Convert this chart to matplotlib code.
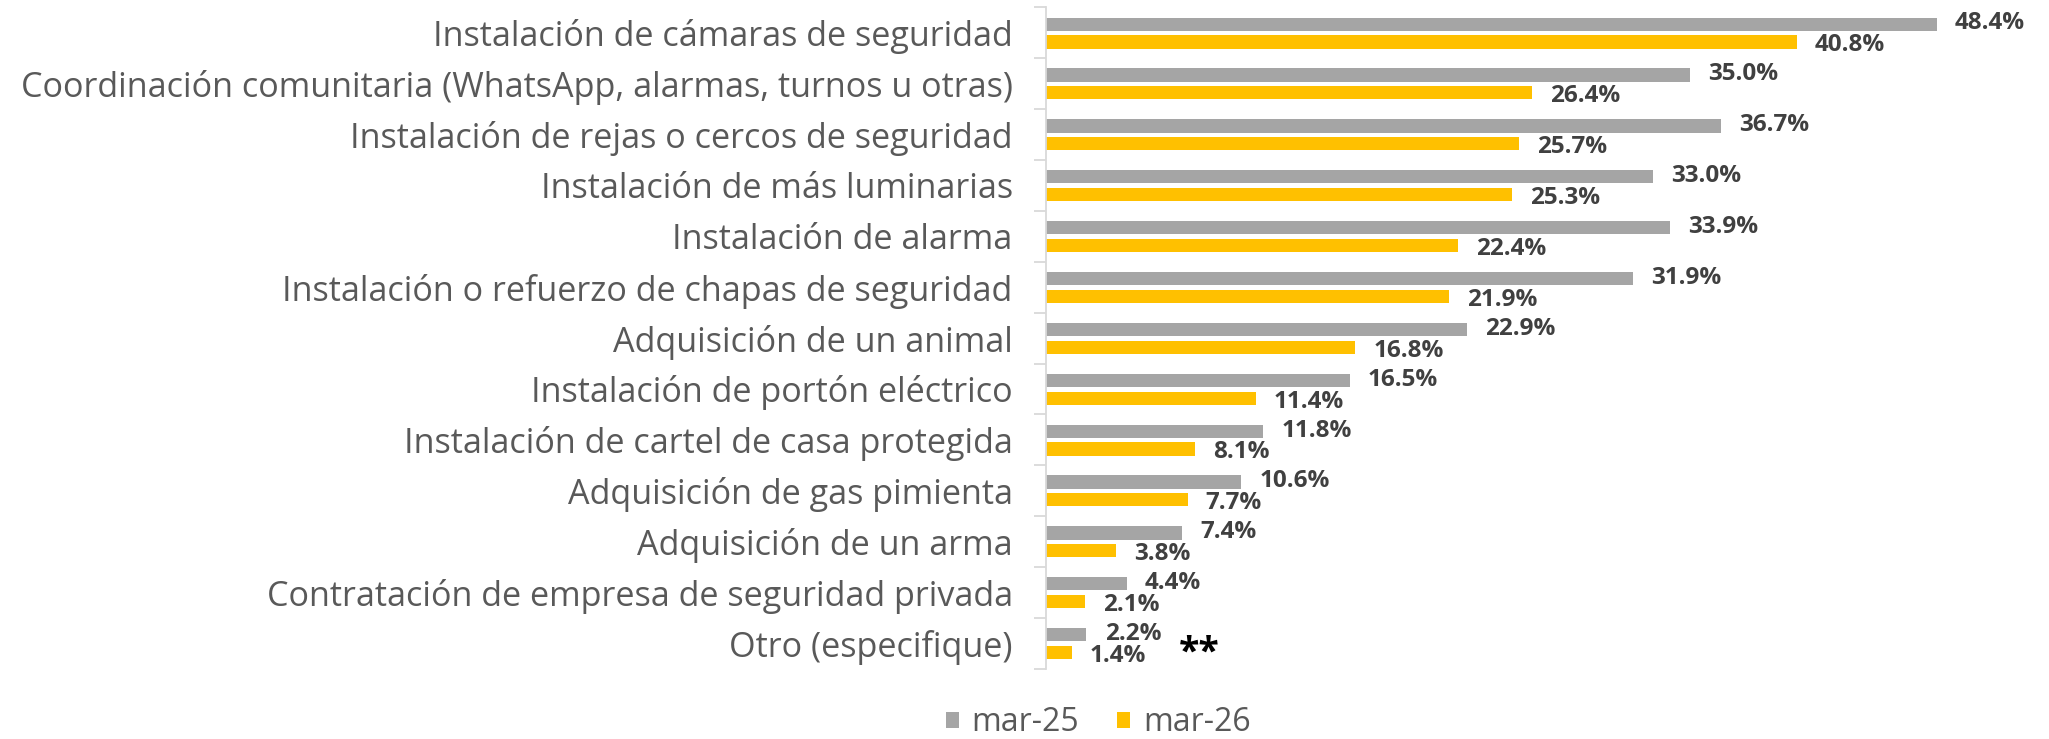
import numpy as np
import matplotlib.pyplot as plt

# categories, top to bottom
categories = [
    "Instalación de cámaras de seguridad",
    "Coordinación comunitaria (WhatsApp, alarmas, turnos u otras)",
    "Instalación de rejas o cercos de seguridad",
    "Instalación de más luminarias",
    "Instalación de alarma",
    "Instalación o refuerzo de chapas de seguridad",
    "Adquisición de un animal",
    "Instalación de portón eléctrico",
    "Instalación de cartel de casa protegida",
    "Adquisición de gas pimienta",
    "Adquisición de un arma",
    "Contratación de empresa de seguridad privada",
    "Otro (especifique)",
]
mar25 = [48.4, 35.0, 36.7, 33.0, 33.9, 31.9, 22.9, 16.5, 11.8, 10.6, 7.4, 4.4, 2.2]
mar26 = [40.8, 26.4, 25.7, 25.3, 22.4, 21.9, 16.8, 11.4, 8.1, 7.7, 3.8, 2.1, 1.4]
series_names = ["mar-25", "mar-26"]

GRAY = "#A5A5A5"
YELLOW = "#FFC000"
FONT = "Open Sans"

plt.rcParams['font.family'] = [FONT, 'DejaVu Sans']

fig = plt.figure(figsize=(20.49, 7.39), dpi=100)
ax = fig.add_axes([0.5105, 0.095, 0.476, 0.895])

y = np.arange(len(categories))
h = 0.26
b1 = ax.barh(y - 0.17, mar25, height=h, color=GRAY, label=series_names[0])
b2 = ax.barh(y + 0.18, mar26, height=h, color=YELLOW, label=series_names[1])

for bars, vals, dy in ((b1, mar25, 0.5), (b2, mar26, -2.5)):
    for bar, v in zip(bars, vals):
        ax.annotate(f"{v:.1f}%", xy=(bar.get_width(), bar.get_y() + bar.get_height() / 2),
                    xytext=(13, dy), textcoords="offset points",
                    ha="left", va="center", fontsize=17.5, fontweight="bold",
                    color="#404040")

# note next to the last category
ax.text(7.2, y[-1] + 0.2, "**", fontsize=27, fontweight="bold", color="black",
        ha="left", va="center")

ax.set_xlim(0, 53)
ax.set_ylim(len(categories) - 0.5, -0.5)

ax.set_yticks(y)
ax.set_yticklabels(categories, fontsize=24.6, color="#595959")
ax.tick_params(axis="y", which="major", length=0, pad=24)
ax.set_yticks(np.arange(-0.5, len(categories), 1.0), minor=True)
ax.tick_params(axis="y", which="minor", length=9, width=1.3, color="#D9D9D9")
ax.set_xticks([])

for s in ("top", "right", "bottom"):
    ax.spines[s].set_visible(False)
ax.spines["left"].set_color("#D9D9D9")
ax.spines["left"].set_linewidth(1.3)

leg = fig.legend(handles=[b1, b2], labels=series_names, loc="center",
                 bbox_to_anchor=(0.536, 0.022), ncol=2, frameon=False,
                 fontsize=23, handlelength=0.4, handleheight=0.4,
                 handletextpad=0.4, columnspacing=1.2, borderpad=0)
for t in leg.get_texts():
    t.set_color("#595959")

fig.savefig("out.png", dpi=100)
